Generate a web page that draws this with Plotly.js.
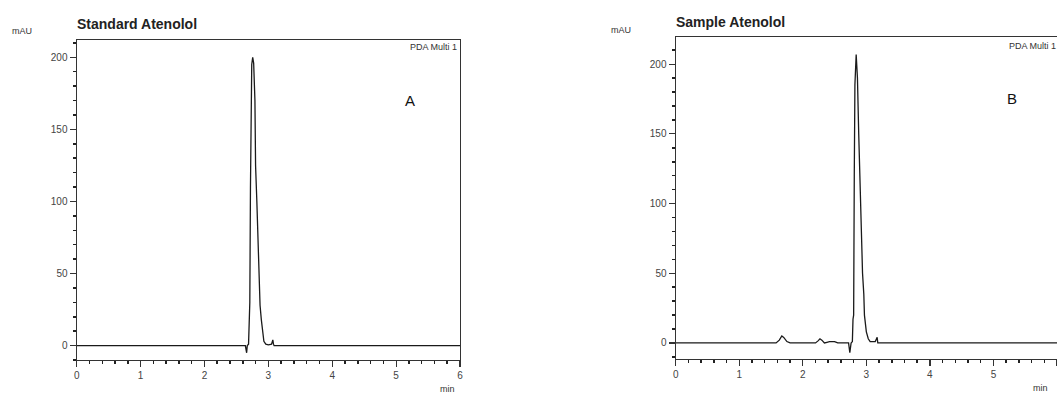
<!DOCTYPE html>
<html>
<head>
<meta charset="utf-8">
<script src="https://cdn.plot.ly/plotly-3.0.1.min.js"></script>
<style>html,body{margin:0;padding:0;background:#fff;}#chart{width:1057px;height:396px;}</style>
</head>
<body>
<div id="chart"></div>
<script>
// Chromatogram A (Standard Atenolol): retention time (min) and absorbance (mAU)
const timeA = [0, 2.64, 2.66, 2.67, 2.69, 2.70, 2.71, 2.72, 2.73, 2.74, 2.755, 2.77, 2.79, 2.80, 2.82, 2.84, 2.86, 2.87, 2.89, 2.91, 2.93, 2.96, 3.00, 3.05, 3.07, 3.08, 3.09, 6];
const mauA  = [0, 0, -5, 0, 1, 28, 30, 110, 180, 195, 200, 196, 170, 125, 100, 70, 45, 28, 18, 8, 3, 1, 0.5, 1, 4, 1, 0, 0];

// Chromatogram B (Sample Atenolol)
const timeB = [0, 1.58, 1.63, 1.67, 1.70, 1.75, 1.80, 2.20, 2.24, 2.27, 2.30, 2.34, 2.38, 2.42, 2.50, 2.55, 2.72, 2.74, 2.76, 2.78, 2.79, 2.80, 2.81, 2.82, 2.84, 2.86, 2.88, 2.90, 2.93, 2.94, 2.96, 2.97, 3.00, 3.03, 3.06, 3.14, 3.16, 3.17, 3.18, 6];
const mauB  = [0, 0, 2, 5, 4, 1, 0, 0, 1.5, 3, 2, 0, 0.5, 1, 1, 0, 0, -7, 0, 1, 17, 20, 120, 185, 207, 190, 150, 110, 67, 50, 35, 20, 8, 3, 1, 1, 3, 4, 0, 0];

// Text
const titleA = "Standard Atenolol";
const titleB = "Sample Atenolol";
const yUnit = "mAU";
const xUnit = "min";
const detector = "PDA Multi 1";
const panelA = "A";
const panelB = "B";
const xTickStep = 1;
const yTickStep = 50;

const W = 1057, H = 396;
const px = v => v / W;
const py = v => 1 - v / H;

const lineStyle = {color: '#1a1a1a', width: 1.3};
const traces = [
  {x: timeA, y: mauA, type: 'scatter', mode: 'lines', line: lineStyle, xaxis: 'x', yaxis: 'y', hoverinfo: 'skip'},
  {x: timeB, y: mauB, type: 'scatter', mode: 'lines', line: lineStyle, xaxis: 'x2', yaxis: 'y2', hoverinfo: 'skip'}
];

const tickFont = {family: 'Liberation Sans, Arial, sans-serif', size: 10, color: '#444'};
function xAx(domain, anchor) {
  return {
    domain: domain, anchor: anchor, range: [0, 6], tickmode: 'linear', tick0: 0, dtick: xTickStep,
    showline: true, mirror: true, linecolor: '#333', linewidth: 1.2,
    ticks: 'outside', ticklen: 6, tickcolor: '#333', tickwidth: 1.2,
    minor: {dtick: 0.2, tick0: 0, ticks: 'outside', ticklen: 3, tickcolor: '#222', tickwidth: 1.5, showgrid: false},
    showgrid: false, zeroline: false, tickfont: tickFont, fixedrange: true
  };
}
function yAx(domain, anchor, range) {
  return {
    domain: domain, anchor: anchor, range: range, tickmode: 'linear', tick0: 0, dtick: yTickStep,
    showline: true, mirror: true, linecolor: '#333', linewidth: 1.2,
    ticks: 'outside', ticklen: 6, tickcolor: '#333', tickwidth: 1.2,
    minor: {dtick: 10, tick0: 0, ticks: 'outside', ticklen: 3, tickcolor: '#222', tickwidth: 1.5, showgrid: false},
    showgrid: false, zeroline: false, tickfont: tickFont, fixedrange: true
  };
}

const titleFont = {family: 'Liberation Sans Narrow, Arial Narrow, Liberation Sans, Arial, sans-serif', size: 14, color: '#222', weight: 'bold'};
const smallFont = {family: 'Liberation Sans, Arial, sans-serif', size: 9, color: '#333'};
const panelFont = {family: 'Liberation Sans, Arial, sans-serif', size: 15, color: '#111'};

function ann(text, x, y, font, xanchor, yanchor) {
  return {text: text, x: px(x), y: py(y), xref: 'paper', yref: 'paper', showarrow: false,
          xanchor: xanchor || 'left', yanchor: yanchor || 'middle', font: font};
}

const annotations = [
  ann('<b>' + titleA + '</b>', 75, 24, titleFont),
  ann(yUnit, 10, 31, smallFont),
  ann(detector, 459, 47, smallFont, 'right'),
  ann(panelA, 410, 100, panelFont, 'center'),
  ann(xUnit, 447, 389, smallFont, 'center'),
  ann('<b>' + titleB + '</b>', 674, 22, titleFont),
  ann(yUnit, 609, 30, smallFont),
  ann(detector, 1058, 46, smallFont, 'right'),
  ann(panelB, 1012, 98, panelFont, 'center'),
  ann(xUnit, 1040, 388, smallFont, 'center')
];

const layout = {
  width: W, height: H,
  margin: {l: 0, r: 0, t: 0, b: 0},
  paper_bgcolor: '#fff', plot_bgcolor: '#fff',
  showlegend: false,
  xaxis: xAx([px(76.7), px(460)], 'y'),
  yaxis: yAx([py(360), py(40)], 'x', [-10, 212]),
  xaxis2: xAx([px(675.7), 1], 'y2'),
  yaxis2: yAx([py(359), py(37)], 'x2', [-11.5, 219.5]),
  annotations: annotations
};

Plotly.newPlot('chart', traces, layout, {staticPlot: true, displayModeBar: false});
</script>
</body>
</html>
